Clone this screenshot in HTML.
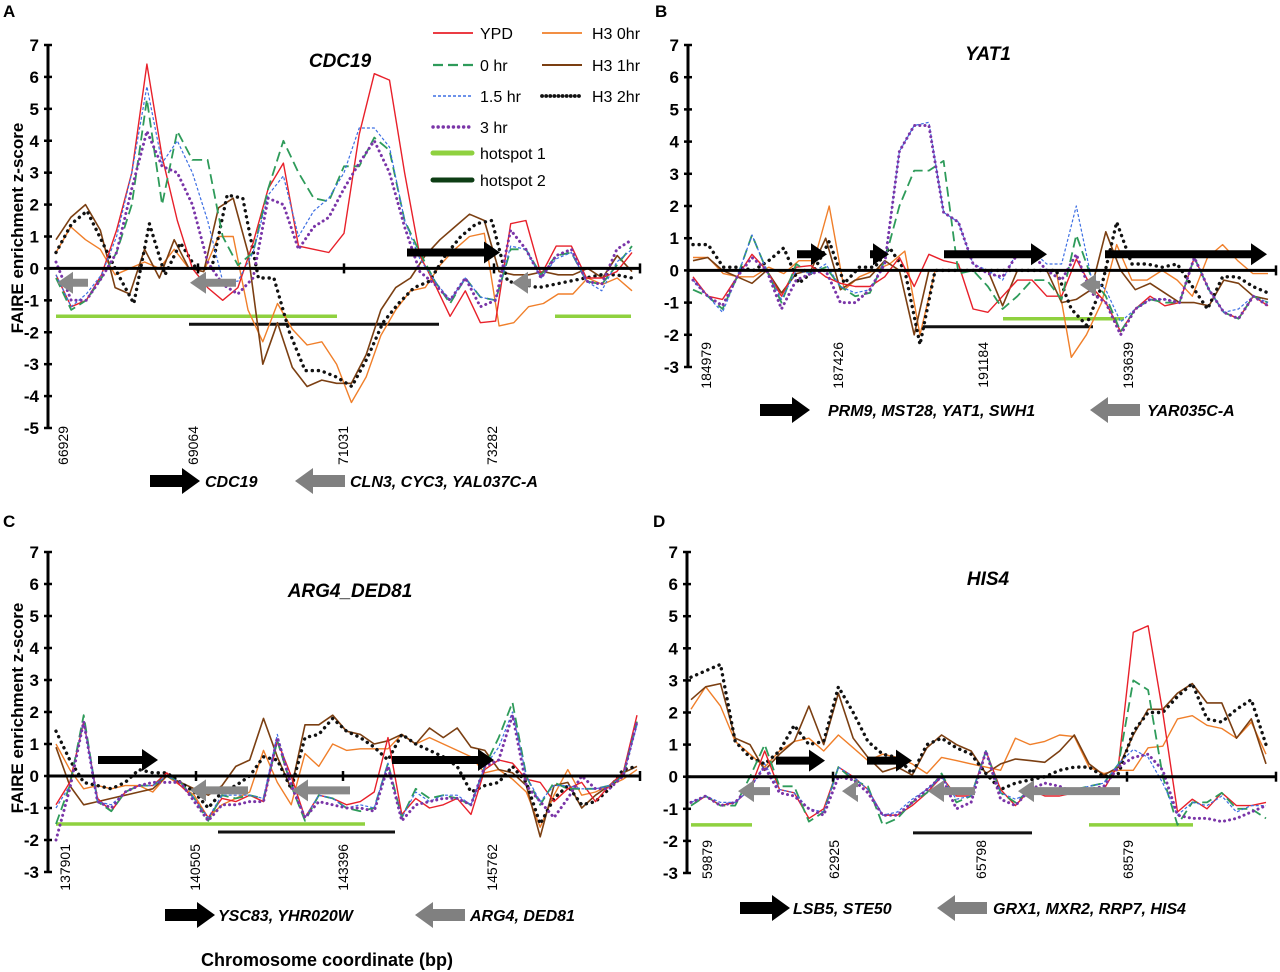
<!DOCTYPE html>
<html><head><meta charset="utf-8"><style>
html,body{margin:0;padding:0;background:#fff;}
svg{display:block;font-family:"Liberation Sans",Arial,sans-serif;}
</style></head><body>
<svg id="fig" width="1280" height="972" viewBox="0 0 1280 972" xmlns="http://www.w3.org/2000/svg"></svg>
<script>
// ---------- Panel A (CDC19) data ----------
const A_YPD=[-0.2,-1.2,-1.0,-0.2,1.2,3.0,6.4,3.5,1.5,0,-0.6,-1.0,-0.6,0.8,2.5,3.3,0.7,0.6,0.5,1.1,4.2,6.1,5.9,3,0.4,-0.5,-1.5,-0.7,-1.7,-1.65,1.4,1.5,-0.2,0.7,0.7,-0.3,-0.3,-0.1,0.5];
const A_0hr=[-0.3,-1.3,-1.0,-0.3,0.5,2,5.3,2,4.3,3.4,3.4,1.0,0.1,0.5,2.5,4.0,3.0,2.2,2.1,3.2,3.2,4.1,3.7,1.5,0.5,-0.4,-1.1,-0.3,-0.9,-1.0,0.6,0.6,-0.2,0.4,0.5,-0.4,-0.5,0.1,0.7];
const A_15hr=[-0.2,-1.2,-0.8,-0.2,1.0,3,5.7,3.3,4.0,3.0,1.5,-0.4,-0.4,0.5,2.3,2.9,1.0,1.8,2.2,3.0,4.4,4.4,3.8,1.5,0.3,-0.4,-1.0,-0.3,-0.9,-1.0,0.7,0.6,-0.3,0.3,0.5,-0.4,-0.7,0.2,0.6];
const A_3hr=[0.2,-1.0,-1.0,-0.3,0.5,2.5,4.3,3.2,3.0,2.0,0.2,-0.5,-0.8,-0.3,2.2,2.0,0.6,1.3,1.6,2.5,3.3,4.0,3.0,1.3,-0.1,-0.5,-1.0,-0.3,-1.2,-1.0,1.2,0.6,-0.3,0.4,0.6,-0.4,-0.5,0.6,0.9];
const A_H30=[0.5,1.3,0.9,0.6,-0.2,0,0.2,0,0.6,0,-0.1,1.0,1.0,-1.3,-2.3,-1.1,-1.9,-2.4,-2.3,-3.0,-4.2,-3.4,-2.1,-1.3,-0.7,-0.6,0.1,0.6,1.0,1.1,-1.8,-1.7,-1.2,-1.1,-0.8,-0.8,-0.3,-0.5,-0.3,-0.7];
const A_H31=[0.9,1.6,2.0,1.2,-0.6,-0.8,0.6,-0.3,0.9,0,-0.1,1.9,2.2,0.5,-3.0,-1.7,-3.1,-3.7,-3.5,-3.6,-3.6,-2.7,-1.3,-0.6,-0.3,0.4,0.9,1.3,1.7,1.5,-0.1,-0.2,-0.2,-0.1,-0.2,-0.2,0,-0.3,0.4,-0.1];
const A_H32=[0.5,1.4,1.8,0.8,-0.2,-1.1,1.4,-0.2,0.8,0,0,2.3,2.2,-0.3,-0.3,-2,-3.2,-3.2,-3.4,-3.7,-2.8,-1.7,-1.1,-0.6,-0.4,0.4,1.0,1.4,1.5,-0.4,-0.5,-0.6,-0.5,-0.4,-0.3,-0.2,-0.2,-0.3];
const A_ticks=["66929","69064","71031","73282"];
// ---------- Panel B (YAT1) ----------
const B_YPD=[-0.2,-0.8,-0.9,-0.2,0.5,0,-0.8,0.1,0.15,-0.2,-0.4,-0.5,-0.5,-0.2,0.4,-0.5,0.5,0.3,0.2,-1.2,-1.3,-0.8,-0.3,-0.3,-0.8,-0.8,0.35,-0.5,-1.0,-1.9,-1.2,-0.8,-1.1,-1.0,0.4,-0.6,-1.3,-1.5,-0.8,-1.1];
const B_0hr=[-0.6,-0.8,-1.2,-0.2,1.1,0,-1.0,0.2,-0.1,0.1,-0.5,-0.8,-0.7,0.3,2,3.1,3.1,3.4,-0.1,0,-0.5,-1.2,-0.8,-0.3,-0.3,-0.9,1.1,-0.2,-0.8,-1.9,-1.2,-0.9,-1.0,-1.0,0.4,-0.6,-1.3,-1.5,-0.8,-1.0];
const B_15hr=[-0.3,-0.8,-1.3,-0.2,1.1,0,-0.9,0,-0.1,0.2,-0.5,-0.7,-0.6,0.3,3.7,4.5,4.6,1.8,1.5,0.2,0,-0.3,0.6,0.6,0.2,0.2,2.0,-0.2,-0.6,-1.6,-1.2,-0.9,-0.9,-1.0,0.4,-0.6,-1.3,-1.2,-0.8,-1.0];
const B_3hr=[-0.3,-0.8,-1.1,-0.2,0.4,0,-1.2,-0.3,-0.1,0,-1.0,-1.0,-0.6,0.2,3.7,4.5,4.5,1.8,1.5,0.2,-0.1,-0.2,0.5,0.5,0,-0.3,0.5,-0.7,-1.0,-2.0,-1.2,-0.9,-0.9,-1.0,0.4,-0.6,-1.3,-1.5,-0.8,-1.1];
const B_H30=[0.4,0.4,-0.1,-0.2,-0.2,0.1,-0.1,0.3,0.3,2.0,-0.6,-0.2,0,0.2,0.6,-2.0,0,0,0,0,0,0,0,0,0,-2.7,-2.0,-1.0,0.8,-0.3,-0.3,0,-0.3,-0.8,0.4,0.8,0.3,-0.1,-0.1];
const B_H31=[0.3,0.4,0,-0.2,-0.4,0,-0.7,-0.1,0,1.0,-0.6,-0.3,-0.2,0.3,0,-2.0,0,0,0,0,0,-1.1,0,0,0,-1.0,-0.9,-0.6,1.2,0,-0.6,-0.4,-0.7,-1.0,-1.0,-1.1,-0.3,-0.4,-0.8,-0.9];
const B_H32=[0.8,0.8,0.1,0.1,0,0.3,0.7,-0.4,0,0.9,-0.4,0.1,0.1,0.7,0,-2.3,0,0,0,0,0,0,0,0,0,-1.2,-1.7,-0.5,1.5,0.2,0.2,0.1,0.2,-0.5,-1.2,-0.2,-0.2,-0.5,-0.7];
const B_ticks=["184979","187426","191184","193639"];
// ---------- Panel C (ARG4_DED81) ----------
const C_YPD=[-0.9,-0.2,1.7,-0.7,-1.1,-0.5,-0.3,-0.3,0.1,-0.3,-0.7,-1.3,-0.7,-0.8,-0.6,-0.8,1.1,0,-1.3,-0.6,-0.7,-0.9,-0.8,-0.5,1.2,-1.2,-0.7,-1.0,-0.9,-0.7,-1.2,0.2,0.5,0.4,-0.1,-0.2,-0.8,-0.4,-0.2,-0.8,-0.3,0.1,1.9];
const C_0hr=[-1.5,-0.3,1.9,-0.8,-1.1,-0.5,-0.3,-0.3,0,-0.2,-0.7,-1.4,-0.6,-0.7,-0.6,-0.7,1.1,-0.3,-1.4,-0.6,-0.7,-1.0,-1.1,-1.0,0.4,-1.3,-0.4,-0.7,-0.6,-0.7,-0.9,0.3,1.2,2.3,0,-0.9,-0.2,-0.4,-0.4,-0.4,-0.3,0,1.7];
const C_15hr=[-1.0,-0.3,1.7,-0.8,-0.9,-0.5,-0.3,-0.3,0,-0.2,-0.7,-1.3,-0.6,-0.6,-0.6,-0.7,1.3,-0.2,-1.3,-0.6,-0.7,-1.0,-0.9,-1.0,0.4,-1.3,-0.5,-0.8,-0.6,-0.6,-0.9,0.3,0.9,2.0,0,-0.8,-0.3,-0.3,-0.4,-0.4,-0.3,0,1.6];
const C_3hr=[-2.0,-0.4,1.7,-0.8,-1.0,-0.5,-0.3,-0.2,-0.2,-0.2,-0.8,-1.4,-0.9,-0.9,-0.8,-0.8,1.2,-0.3,-1.3,-0.8,-0.9,-1.0,-1.0,-1.1,0.3,-1.4,-0.9,-0.8,-0.7,-0.7,-0.9,0.3,0.5,1.9,-0.3,-0.8,-1.3,-0.7,0,-0.4,-0.4,0,1.7];
const C_H30=[1.0,0.2,-0.4,-0.3,-0.4,-0.3,-0.3,-0.5,0,-0.3,-0.6,-1.3,-0.9,-0.7,-0.5,0.8,-0.2,-0.9,0.7,0.3,1.0,0.8,0.85,0.85,0.85,1.3,1.0,1.2,1.0,0.8,0.6,0.1,0.2,-0.1,-0.5,-1.6,-0.6,0.2,-0.6,-0.5,-0.3,-0.1,0.2];
const C_H31=[0.9,-0.3,-0.9,-0.8,-0.7,-0.6,-0.5,-0.4,0,-0.2,-0.4,-0.6,-0.3,0.3,0.5,1.8,0.6,-0.4,1.6,1.6,1.9,1.4,1.3,1.0,1.1,1.3,1.0,1.5,1.2,1.5,0.9,0.8,0.2,0.1,-0.3,-1.9,-0.3,-0.2,-1.0,-0.6,-0.3,0.1,0.3];
const C_H32=[1.4,0.5,-0.2,-0.3,-0.4,-0.2,0.2,0.1,0.1,-0.2,-0.5,-1.0,-0.5,-0.3,0,0.6,0.5,-0.4,1.2,1.3,1.8,1.4,1.2,0.9,0.5,1.3,1.0,0.8,0.6,0.3,-0.5,-0.3,-0.2,0.3,-0.2,-1.5,-0.7,-0.3,-0.9,-0.8,-0.4,0.2,0.3];
const C_ticks=["137901","140505","143396","145762"];
// ---------- Panel D (HIS4) ----------
const D_YPD=[-0.9,-0.6,-0.9,-0.8,-0.4,0.8,-0.4,-0.5,-1.3,-1.0,0.3,0,-0.4,-1.2,-1.2,-0.9,-0.5,0,-0.6,-0.6,0.8,-0.4,-0.9,-0.4,-0.6,-0.6,-0.5,-0.4,-0.4,0.4,4.5,4.7,2.0,-1.1,-0.7,-1.0,-0.5,-0.9,-0.9,-0.8];
const D_0hr=[-0.9,-0.6,-0.9,-0.9,0,1.0,-0.3,-0.3,-1.4,-1.1,0.3,-0.1,-0.3,-1.5,-1.3,-0.8,-0.5,0.1,-0.8,-0.6,0.8,-0.5,-0.8,-0.4,-0.4,-0.4,-0.4,-0.3,-0.2,0.4,3.0,2.7,0,-1.5,-0.8,-0.8,-0.5,-1.0,-1.0,-1.3];
const D_15hr=[-0.8,-0.6,-0.8,-0.8,-0.4,0.4,-0.4,-0.5,-1.0,-1.1,0.3,0,-0.4,-1.2,-1.1,-0.7,-0.4,0,-0.7,-0.6,0.8,-0.5,-0.7,-0.5,-0.5,-0.5,-0.4,-0.3,-0.2,0.4,0.85,0.6,-0.2,-1.2,-0.8,-0.9,-0.6,-1.1,-0.9,-0.9];
const D_3hr=[-0.8,-0.6,-0.9,-0.8,-0.3,0.3,-0.5,-0.6,-1.0,-1.2,0,-0.1,-0.5,-1.2,-1.2,-0.8,-0.4,0,-1.0,-0.8,0.8,-0.7,-0.9,-0.4,-0.2,-0.3,-0.5,-0.4,-0.3,0.3,0.6,0.7,0.2,-1.2,-1.3,-1.3,-1.4,-1.3,-1.1,-0.9];
const D_H30=[2.1,2.8,2.2,1.1,0.7,0.3,0.8,1.1,1.2,0.8,1.3,0.9,0.5,0.7,0.6,0.4,0.1,0.6,0.5,0.4,0.3,0.2,1.2,1.0,1.1,1.3,1.25,0.3,0.1,0.2,0.2,0.9,0.95,1.8,1.9,1.6,1.5,1.2,1.7,0.7];
const D_H31=[2.4,2.8,2.9,1.2,1.0,0.2,0.7,1.1,2.2,1.0,2.6,1.2,0.6,0.15,0.3,0.05,0.9,1.3,1.0,0.8,0.1,0.4,0.55,0.5,0.45,0.8,1.3,0.4,0.05,0.3,1.3,2.1,2.1,2.6,2.9,2.3,2.3,1.2,1.8,0.4];
const D_H32=[3.1,3.3,3.5,1.1,0.6,0.4,0.8,1.6,1.0,1.1,2.8,2.0,1.1,0.7,0.6,0.1,1.0,1.2,0.9,0.7,0.1,-0.4,-0.2,-0.1,0,0.2,0.3,0.3,0,0.1,1.4,2.0,2.0,2.5,2.9,1.8,1.7,2.1,2.4,1.0];
const D_ticks=["59879","62925","65798","68579"];

const NS="http://www.w3.org/2000/svg";
const svg=document.getElementById('fig');
function mk(tag,attrs,parent){const e=document.createElementNS(NS,tag);for(const k in attrs)e.setAttribute(k,attrs[k]);(parent||svg).appendChild(e);return e;}
function txt(s,attrs,parent){const e=mk('text',attrs,parent);e.textContent=s;return e;}

const STY={
 ypd:{stroke:'#e8202a',w:1.4,dash:null,cap:'butt'},
 h0:{stroke:'#2e9b5a',w:1.8,dash:'10,5',cap:'butt'},
 h15:{stroke:'#3d6fe3',w:1.2,dash:'3,2',cap:'butt'},
 h3:{stroke:'#7a35a8',w:3,dash:'0.1,5',cap:'round'},
 h30:{stroke:'#f07f2a',w:1.4,dash:null,cap:'butt'},
 h31:{stroke:'#7b3f12',w:1.6,dash:null,cap:'butt'},
 h32:{stroke:'#111',w:3.4,dash:'0.1,6',cap:'round'}
};

function arrow(g,x1,x2,y,color,th,hl,hw){
 const dir=x2>x1?1:-1;const hx=x2-dir*hl;
 const p=`M${x1},${y-th/2} L${hx},${y-th/2} L${hx},${y-hw/2} L${x2},${y} L${hx},${y+hw/2} L${hx},${y+th/2} L${x1},${y+th/2} Z`;
 return mk('path',{d:p,fill:color},g);
}

function panel(cfg){
 const g=mk('g',{});
 
 
 const ys=v=>cfg.y0+(cfg.ymax-v)*(cfg.y1-cfg.y0)/(cfg.ymax-cfg.ymin);
 const xs=(i,n)=>cfg.dx0+i*(cfg.dx1-cfg.dx0)/(n-1);
 cfg.hot1.forEach(h=>{const l=mk('line',{x1:h[0],x2:h[1],y1:ys(-1.5),y2:ys(-1.5),stroke:'#8fd13f','stroke-width':3.5},g);
  });
 cfg.hot2.forEach(h=>{const l=mk('line',{x1:h[0],x2:h[1],y1:ys(-1.75),y2:ys(-1.75),stroke:'#111','stroke-width':3},g);
  });
 cfg.series.forEach(s=>{
  const st=STY[s.k];const n=s.d.length;
  const pts=s.d.map((v,i)=>xs(i,n).toFixed(1)+','+ys(v).toFixed(1)).join(' ');
  const pl=mk('polyline',{points:pts,fill:'none',stroke:st.stroke,'stroke-width':st.w,'stroke-linecap':st.cap,'stroke-linejoin':'round'},g);
  if(st.dash)pl.setAttribute('stroke-dasharray',st.dash);
  
  
 });
 cfg.bArrows.forEach(a=>{const p=arrow(g,a[0],a[1],ys(0.5),'#000',8,16,22);
  });
 cfg.gArrows.forEach(a=>{const p=arrow(g,a[0],a[1],ys(-0.45),'#888',8,16,22);
  });
 const ax=mk('line',{x1:cfg.ax,x2:cfg.ax,y1:cfg.y0,y2:cfg.y1,stroke:'#000','stroke-width':3},g);
 
 const zl=mk('line',{x1:cfg.ax,x2:cfg.xend,y1:ys(0),y2:ys(0),stroke:'#000','stroke-width':3},g);
 
 for(let v=cfg.ymin;v<=cfg.ymax;v++){
  mk('line',{x1:cfg.ax-4,x2:cfg.ax+4,y1:ys(v),y2:ys(v),stroke:'#000','stroke-width':2.5},g);
  const t=txt(String(v),{x:cfg.ax-9,y:ys(v)+6,'text-anchor':'end','font-size':17,'font-weight':'bold'},g);
  
 }
 cfg.zt.forEach(x=>mk('line',{x1:x,x2:x,y1:ys(0)-5,y2:ys(0)+5,stroke:'#000','stroke-width':2.5},g));
 mk('line',{x1:cfg.xend,x2:cfg.xend,y1:ys(0)-5,y2:ys(0)+5,stroke:'#000','stroke-width':2.5},g);
 cfg.ticks.forEach((s,i)=>{const x=cfg.tx[i];
  const t=txt(s,{x:0,y:0,'text-anchor':'end','font-size':14,transform:`translate(${x+5},${cfg.ty}) rotate(-90)`},g);
  });
 const tt=txt(cfg.title,{x:cfg.titx,y:cfg.tity,'text-anchor':'middle','font-size':19,'font-weight':'bold','font-style':'italic'},g);
 
 const pl=txt(cfg.id,{x:cfg.lx,y:cfg.ly,'font-size':17,'font-weight':'bold'},g);
 
 const ga=arrow(g,cfg.gb[0],cfg.gb[0]+50,cfg.gy,'#000',12,18,26);
 
 const gt1=txt(cfg.gb[1],{x:cfg.gb[2],y:cfg.gy+6,'font-size':16,'font-weight':'bold','font-style':'italic'},g);
 
 const gr=arrow(g,cfg.gg[0]+50,cfg.gg[0],cfg.gy,'#808080',12,18,26);
 
 const gt2=txt(cfg.gg[1],{x:cfg.gg[2],y:cfg.gy+6,'font-size':16,'font-weight':'bold','font-style':'italic'},g);
 
}

panel({id:'A',title:'CDC19',titx:340,tity:67,lx:3,ly:17,ax:48,xend:640,y0:45,y1:428,ymin:-5,ymax:7,dx0:56,dx1:632,
 series:[{k:'h30',d:A_H30},{k:'h31',d:A_H31},{k:'h32',d:A_H32},{k:'ypd',d:A_YPD},{k:'h0',d:A_0hr},{k:'h15',d:A_15hr},{k:'h3',d:A_3hr}],
 hot1:[[56,337],[555,631]],hot2:[[189,439]],bArrows:[[407,500]],gArrows:[[88,57],[236,190],[531,512]],
 zt:[198,344,494],ticks:A_ticks,tx:[63,193,343,492],ty:426,gy:481,gb:[150,'CDC19',205],gg:[295,'CLN3, CYC3, YAL037C-A',350]});
panel({id:'B',title:'YAT1',titx:988,tity:60,lx:655,ly:17,ax:688,xend:1276,y0:45,y1:367,ymin:-3,ymax:7,dx0:693,dx1:1268,
 series:[{k:'h30',d:B_H30},{k:'h31',d:B_H31},{k:'h32',d:B_H32},{k:'ypd',d:B_YPD},{k:'h0',d:B_0hr},{k:'h15',d:B_15hr},{k:'h3',d:B_3hr}],
 hot1:[[1003,1124]],hot2:[[922,1093]],bArrows:[[797,827],[870,889],[944,1047],[1105,1267]],gArrows:[[1100,1080]],
 zt:[],ticks:B_ticks,tx:[706,838,983,1128],ty:342,gy:410,gb:[760,'PRM9, MST28, YAT1, SWH1',828],gg:[1090,'YAR035C-A',1147]});
panel({id:'C',title:'ARG4_DED81',titx:350,tity:597,lx:3,ly:527,ax:48,xend:640,y0:552,y1:872,ymin:-3,ymax:7,dx0:56,dx1:637,
 series:[{k:'h30',d:C_H30},{k:'h31',d:C_H31},{k:'h32',d:C_H32},{k:'ypd',d:C_YPD},{k:'h0',d:C_0hr},{k:'h15',d:C_15hr},{k:'h3',d:C_3hr}],
 hot1:[[56,365]],hot2:[[218,395]],bArrows:[[98,158],[392,494]],gArrows:[[248,190],[350,292]],
 zt:[196,343],ticks:C_ticks,tx:[65,195,343,492],ty:844,gy:915,gb:[165,'YSC83, YHR020W',218],gg:[415,'ARG4, DED81',470]});
panel({id:'D',title:'HIS4',titx:988,tity:585,lx:653,ly:527,ax:687,xend:1276,y0:552,y1:873,ymin:-3,ymax:7,dx0:691,dx1:1266,
 series:[{k:'h30',d:D_H30},{k:'h31',d:D_H31},{k:'h32',d:D_H32},{k:'ypd',d:D_YPD},{k:'h0',d:D_0hr},{k:'h15',d:D_15hr},{k:'h3',d:D_3hr}],
 hot1:[[691,752],[1089,1193]],hot2:[[913,1032]],bArrows:[[776,825],[867,912]],gArrows:[[770,738],[856,842],[975,928],[1120,1018]],
 zt:[833,1127],ticks:D_ticks,tx:[707,834,981,1128],ty:840,gy:908,gb:[740,'LSB5, STE50',793],gg:[937,'GRX1, MXR2, RRP7, HIS4',993]});

[[17,228],[17,708]].forEach(p=>{const t=txt('FAIRE enrichment z-score',{x:0,y:0,'text-anchor':'middle','font-size':17,'font-weight':'bold',transform:`translate(${p[0]+6},${p[1]}) rotate(-90)`});
 });
const xt=txt('Chromosome coordinate (bp)',{x:327,y:966,'text-anchor':'middle','font-size':18,'font-weight':'bold'});


const leg=mk('g',{});

const legItems=[['YPD','ypd',433,480,33],['0 hr','h0',433,480,65],['1.5 hr','h15',433,480,96],['3 hr','h3',433,480,127],
 ['H3 0hr','h30',542,592,33],['H3 1hr','h31',542,592,65],['H3 2hr','h32',542,592,96]];
legItems.forEach(it=>{const st=STY[it[1]];
 const l=mk('line',{x1:it[2],x2:it[2]+40,y1:it[4],y2:it[4],stroke:st.stroke,'stroke-width':st.w+0.4,'stroke-linecap':st.cap},leg);
 if(st.dash)l.setAttribute('stroke-dasharray',it[1]==='h32'?'0.1,4':st.dash);
 const t=txt(it[0],{x:it[3],y:it[4]+6,'font-size':16},leg);
 });
[['hotspot 1','#8fd13f',153],['hotspot 2','#0d3d14',180]].forEach(it=>{
 mk('line',{x1:433,x2:472,y1:it[2],y2:it[2],stroke:it[1],'stroke-width':5,'stroke-linecap':'round'},leg);
 const t=txt(it[0],{x:480,y:it[2]+6,'font-size':16},leg);
 });
</script>
</body></html>
